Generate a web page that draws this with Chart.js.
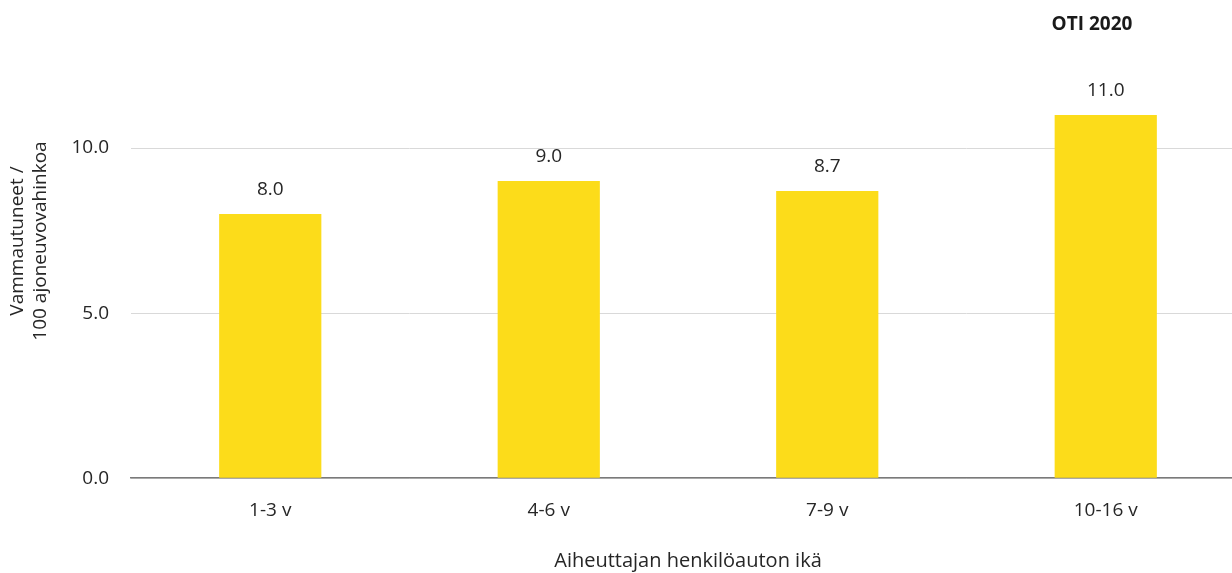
<!DOCTYPE html>
<html>
<head>
<meta charset="utf-8">
<script src="https://cdn.jsdelivr.net/npm/chart.js@4/dist/chart.umd.min.js"></script>
<style>
html,body{margin:0;padding:0;overflow:hidden;background:#fff;}
#wrap{width:1246px;height:573px;}
</style>
</head>
<body>
<div id="wrap"><canvas id="c" width="1246" height="573"></canvas></div>
<script>
const categories = ['1-3 v', '4-6 v', '7-9 v', '10-16 v'];
const values = [8.0, 9.0, 8.7, 11.0];
const yTicks = [0, 5, 10];
const chartTitle = 'OTI 2020';
const yTitle = ['Vammautuneet /', '100 ajoneuvovahinkoa'];
const xTitle = 'Aiheuttajan henkilöauton ikä';

const FONT = "'Open Sans', 'Noto Sans', sans-serif";
const TXT = '#262626';

const labelPlugin = {
  id: 'valueLabels',
  afterDatasetsDraw(chart) {
    const ctx = chart.ctx;
    const meta = chart.getDatasetMeta(0);
    ctx.save();
    ctx.font = "19px " + FONT;
    ctx.fillStyle = TXT;
    ctx.textAlign = 'center';
    ctx.textBaseline = 'middle';
    meta.data.forEach((bar, i) => {
      ctx.fillText(values[i].toFixed(1), bar.x, bar.y - 24);
    });
    ctx.restore();
  }
};

const textPlugin = {
  id: 'extraTitles',
  afterDraw(chart) {
    const ctx = chart.ctx;
    ctx.save();
    ctx.font = "bold 19px " + FONT;
    ctx.fillStyle = '#1a1a1a';
    ctx.textAlign = 'center';
    ctx.textBaseline = 'middle';
    ctx.fillText(chartTitle, chart.chartArea.right - 153, 25);
    // y axis title (two lines, rotated)
    ctx.font = "19px " + FONT;
    ctx.fillStyle = TXT;
    ctx.translate(0, 241);
    ctx.rotate(-Math.PI / 2);
    ctx.fillText(yTitle[0], 0, 18);
    ctx.fillText(yTitle[1], 0, 41);
    ctx.restore();
  }
};

new Chart(document.getElementById('c'), {
  type: 'bar',
  data: {
    labels: categories,
    datasets: [{
      data: values,
      backgroundColor: '#FCDC1A',
      barPercentage: 0.367,
      categoryPercentage: 1.0
    }]
  },
  options: {
    responsive: false,
    animation: false,
    layout: { padding: { top: 82, right: 1, left: 0, bottom: 0 } },
    plugins: { legend: { display: false }, tooltip: { enabled: false } },
    scales: {
      x: {
        grid: { display: false, drawTicks: false },
        border: { display: true, color: '#7a7a7a', width: 1.5 },
        ticks: { color: TXT, font: { family: FONT, size: 19 }, padding: 21 },
        title: { display: true, text: xTitle, color: TXT, font: { family: FONT, size: 20 }, padding: { top: 6, bottom: 0 } }
      },
      y: {
        min: 0, max: 12,
        afterBuildTicks(scale) { scale.ticks = yTicks.map(v => ({ value: v })); },
        afterFit(scale) { scale.width = 131; },
        grid: { color: '#d9d9d9', drawTicks: false, lineWidth: 1 },
        border: { display: false },
        ticks: { color: TXT, font: { family: FONT, size: 19 }, padding: 22, callback: v => Number(v).toFixed(1) },
        title: { display: false }
      }
    }
  },
  plugins: [labelPlugin, textPlugin]
});
</script>
</body>
</html>
